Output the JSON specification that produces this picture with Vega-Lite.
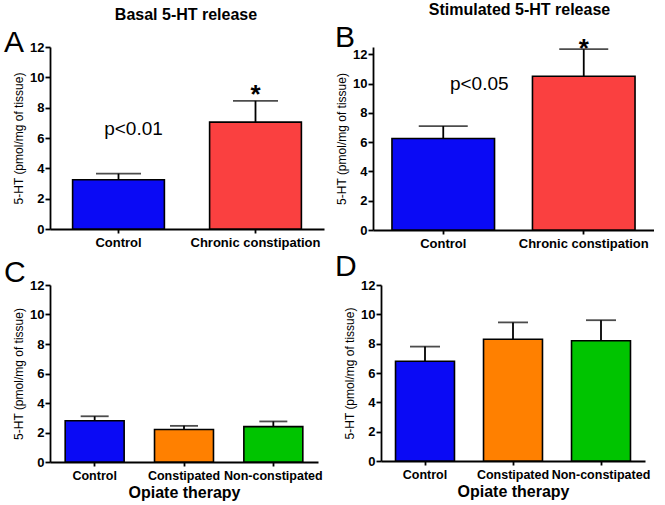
{
  "$schema": "https://vega.github.io/schema/vega-lite/v6.json",
  "background": "white",
  "padding": {"left": 4, "top": 1, "right": 0, "bottom": 0},
  "spacing": 2,
  "datasets": {
    "A": [
      {"group": "Control", "mean": 3.25, "upper": 3.65},
      {"group": "Chronic constipation", "mean": 7.05, "upper": 8.45}
    ],
    "B": [
      {"group": "Control", "mean": 6.25, "upper": 7.1},
      {"group": "Chronic constipation", "mean": 10.5, "upper": 12.35}
    ],
    "C": [
      {"group": "Control", "mean": 2.8, "upper": 3.1},
      {"group": "Constipated", "mean": 2.2, "upper": 2.45},
      {"group": "Non-constipated", "mean": 2.4, "upper": 2.75}
    ],
    "D": [
      {"group": "Control", "mean": 6.8, "upper": 7.8},
      {"group": "Constipated", "mean": 8.3, "upper": 9.45},
      {"group": "Non-constipated", "mean": 8.2, "upper": 9.6}
    ]
  },
  "config": {
    "view": {"stroke": null},
    "font": "Liberation Sans",
    "axis": {
      "domainColor": "black", "domainWidth": 1.8, "tickColor": "black", "tickWidth": 1.8,
      "labelColor": "black", "labelFont": "Liberation Sans", "labelFontWeight": "bold",
      "labelFontSize": 13, "titleColor": "black", "titleFont": "Liberation Sans", "grid": false
    },
    "axisY": {"tickSize": 5, "labelPadding": 1, "titleFontWeight": "normal", "titleFontSize": 12, "titlePadding": 4},
    "axisX": {"tickSize": 4, "labelAngle": 0, "labelPadding": 3, "labelOverlap": false, "titleFontWeight": "bold", "titleFontSize": 16, "titlePadding": 3},
    "title": {"color": "black", "font": "Liberation Sans"}
  },
  "vconcat": [
    {
      "spacing": 11,
      "hconcat": [
        {
          "title": {"text": "Basal 5-HT release", "fontSize": 16, "fontWeight": "bold", "anchor": "middle", "dx": 22, "offset": 5},
          "vconcat": [
            {
              "width": 274, "height": 182,
              "title": {"text": "A", "anchor": "start", "frame": "group", "dx": -46, "fontSize": 30, "fontWeight": "normal", "offset": -17},
              "data": {"name": "A"},
              "layer": [
                {
                  "mark": {"type": "bar", "stroke": "black", "strokeWidth": 1.6, "width": {"band": 0.67}},
                  "encoding": {
                    "x": {"field": "group", "type": "nominal", "sort": null, "title": null, "scale": {"domain": ["Control", "Chronic constipation"], "paddingInner": 0, "paddingOuter": 0}},
                    "y": {"field": "mean", "type": "quantitative", "title": "5-HT (pmol/mg of tissue)", "scale": {"domain": [0, 12], "nice": false}, "axis": {"values": [0, 2, 4, 6, 8, 10, 12]}},
                    "color": {"field": "group", "type": "nominal", "legend": null, "scale": {"domain": ["Control", "Chronic constipation", "Constipated", "Non-constipated"], "range": ["#0a0af5", "#fa4040", "#ff8000", "#00c400"]}}
                  }
                },
                {
                  "mark": {"type": "rule", "color": "black", "strokeWidth": 1.8},
                  "encoding": {
                    "x": {"field": "group", "type": "nominal", "sort": null},
                    "y": {"field": "mean", "type": "quantitative", "axis": {"values": [0, 2, 4, 6, 8, 10, 12]}},
                    "y2": {"field": "upper"}
                  }
                },
                {
                  "mark": {"type": "tick", "color": "black", "thickness": 1.8, "size": 45},
                  "encoding": {
                    "x": {"field": "group", "type": "nominal", "sort": null},
                    "y": {"field": "upper", "type": "quantitative", "axis": {"values": [0, 2, 4, 6, 8, 10, 12]}}
                  }
                },
                {
                  "data": {"values": [{"group": "Control", "y": 6.6, "label": "p<0.01"}]},
                  "mark": {"type": "text", "fontSize": 19, "dx": 15, "baseline": "middle", "color": "black"},
                  "encoding": {
                    "x": {"field": "group", "type": "nominal", "sort": null},
                    "y": {"field": "y", "type": "quantitative", "axis": {"values": [0, 2, 4, 6, 8, 10, 12]}},
                    "text": {"field": "label"}
                  }
                },
                {
                  "data": {"values": [{"group": "Chronic constipation", "y": 9.2, "label": "*"}]},
                  "mark": {"type": "text", "fontSize": 26, "fontWeight": "bold", "baseline": "middle", "dy": 6, "color": "black"},
                  "encoding": {
                    "x": {"field": "group", "type": "nominal", "sort": null},
                    "y": {"field": "y", "type": "quantitative", "axis": {"values": [0, 2, 4, 6, 8, 10, 12]}},
                    "text": {"field": "label"}
                  }
                }
              ]
            }
          ]
        },
        {
          "title": {"text": "Stimulated 5-HT release", "fontSize": 16, "fontWeight": "bold", "anchor": "middle", "dx": 25, "offset": 5},
          "vconcat": [
            {
              "width": 281, "height": 183,
              "title": {"text": "B", "anchor": "start", "frame": "group", "dx": -38, "fontSize": 30, "fontWeight": "normal", "offset": -17},
              "data": {"name": "B"},
              "layer": [
                {
                  "mark": {"type": "bar", "stroke": "black", "strokeWidth": 1.6, "width": {"band": 0.73}},
                  "encoding": {
                    "x": {"field": "group", "type": "nominal", "sort": null, "title": null, "scale": {"domain": ["Control", "Chronic constipation"], "paddingInner": 0, "paddingOuter": 0}},
                    "y": {"field": "mean", "type": "quantitative", "title": "5-HT (pmol/mg of tissue)", "scale": {"domain": [0, 12.5], "nice": false}, "axis": {"values": [0, 2, 4, 6, 8, 10, 12]}},
                    "color": {"field": "group", "type": "nominal", "legend": null, "scale": {"domain": ["Control", "Chronic constipation", "Constipated", "Non-constipated"], "range": ["#0a0af5", "#fa4040", "#ff8000", "#00c400"]}}
                  }
                },
                {
                  "mark": {"type": "rule", "color": "black", "strokeWidth": 1.8},
                  "encoding": {
                    "x": {"field": "group", "type": "nominal", "sort": null},
                    "y": {"field": "mean", "type": "quantitative", "axis": {"values": [0, 2, 4, 6, 8, 10, 12]}},
                    "y2": {"field": "upper"}
                  }
                },
                {
                  "mark": {"type": "tick", "color": "black", "thickness": 1.8, "size": 49},
                  "encoding": {
                    "x": {"field": "group", "type": "nominal", "sort": null},
                    "y": {"field": "upper", "type": "quantitative", "axis": {"values": [0, 2, 4, 6, 8, 10, 12]}}
                  }
                },
                {
                  "data": {"values": [{"group": "Control", "y": 10.0, "label": "p<0.05"}]},
                  "mark": {"type": "text", "fontSize": 19, "dx": 36, "baseline": "middle", "color": "black"},
                  "encoding": {
                    "x": {"field": "group", "type": "nominal", "sort": null},
                    "y": {"field": "y", "type": "quantitative", "axis": {"values": [0, 2, 4, 6, 8, 10, 12]}},
                    "text": {"field": "label"}
                  }
                },
                {
                  "data": {"values": [{"group": "Chronic constipation", "y": 12.8, "label": "*"}]},
                  "mark": {"type": "text", "fontSize": 26, "fontWeight": "bold", "baseline": "middle", "dy": 6, "color": "black"},
                  "encoding": {
                    "x": {"field": "group", "type": "nominal", "sort": null},
                    "y": {"field": "y", "type": "quantitative", "axis": {"values": [0, 2, 4, 6, 8, 10, 12]}},
                    "text": {"field": "label"}
                  }
                }
              ]
            }
          ]
        }
      ]
    },
    {
      "spacing": 12,
      "hconcat": [
        {
          "width": 268, "height": 177,
          "title": {"text": "C", "anchor": "start", "frame": "group", "dx": -46, "fontSize": 30, "fontWeight": "normal", "offset": -9},
          "data": {"name": "C"},
          "layer": [
            {
              "mark": {"type": "bar", "stroke": "black", "strokeWidth": 1.6, "width": {"band": 0.66}},
              "encoding": {
                "x": {"field": "group", "type": "nominal", "sort": null, "title": "Opiate therapy", "scale": {"domain": ["Control", "Constipated", "Non-constipated"], "paddingInner": 0, "paddingOuter": 0}, "axis": {"labelFontSize": 12.5}},
                "y": {"field": "mean", "type": "quantitative", "title": "5-HT (pmol/mg of tissue)", "scale": {"domain": [0, 12], "nice": false}, "axis": {"values": [0, 2, 4, 6, 8, 10, 12]}},
                "color": {"field": "group", "type": "nominal", "legend": null, "scale": {"domain": ["Control", "Chronic constipation", "Constipated", "Non-constipated"], "range": ["#0a0af5", "#fa4040", "#ff8000", "#00c400"]}}
              }
            },
            {
              "mark": {"type": "rule", "color": "black", "strokeWidth": 1.8},
              "encoding": {
                "x": {"field": "group", "type": "nominal", "sort": null},
                "y": {"field": "mean", "type": "quantitative", "axis": {"values": [0, 2, 4, 6, 8, 10, 12]}},
                "y2": {"field": "upper"}
              }
            },
            {
              "mark": {"type": "tick", "color": "black", "thickness": 1.8, "size": 28},
              "encoding": {
                "x": {"field": "group", "type": "nominal", "sort": null},
                "y": {"field": "upper", "type": "quantitative", "axis": {"values": [0, 2, 4, 6, 8, 10, 12]}}
              }
            }
          ]
        },
        {
          "width": 264, "height": 176,
          "title": {"text": "D", "anchor": "start", "frame": "group", "dx": -46, "fontSize": 30, "fontWeight": "normal", "offset": -3},
          "data": {"name": "D"},
          "layer": [
            {
              "mark": {"type": "bar", "stroke": "black", "strokeWidth": 1.6, "width": {"band": 0.67}},
              "encoding": {
                "x": {"field": "group", "type": "nominal", "sort": null, "title": "Opiate therapy", "scale": {"domain": ["Control", "Constipated", "Non-constipated"], "paddingInner": 0, "paddingOuter": 0}, "axis": {"labelFontSize": 12.5}},
                "y": {"field": "mean", "type": "quantitative", "title": "5-HT (pmol/mg of tissue)", "scale": {"domain": [0, 12], "nice": false}, "axis": {"values": [0, 2, 4, 6, 8, 10, 12]}},
                "color": {"field": "group", "type": "nominal", "legend": null, "scale": {"domain": ["Control", "Chronic constipation", "Constipated", "Non-constipated"], "range": ["#0a0af5", "#fa4040", "#ff8000", "#00c400"]}}
              }
            },
            {
              "mark": {"type": "rule", "color": "black", "strokeWidth": 1.8},
              "encoding": {
                "x": {"field": "group", "type": "nominal", "sort": null},
                "y": {"field": "mean", "type": "quantitative", "axis": {"values": [0, 2, 4, 6, 8, 10, 12]}},
                "y2": {"field": "upper"}
              }
            },
            {
              "mark": {"type": "tick", "color": "black", "thickness": 1.8, "size": 30},
              "encoding": {
                "x": {"field": "group", "type": "nominal", "sort": null},
                "y": {"field": "upper", "type": "quantitative", "axis": {"values": [0, 2, 4, 6, 8, 10, 12]}}
              }
            }
          ]
        }
      ]
    }
  ]
}
